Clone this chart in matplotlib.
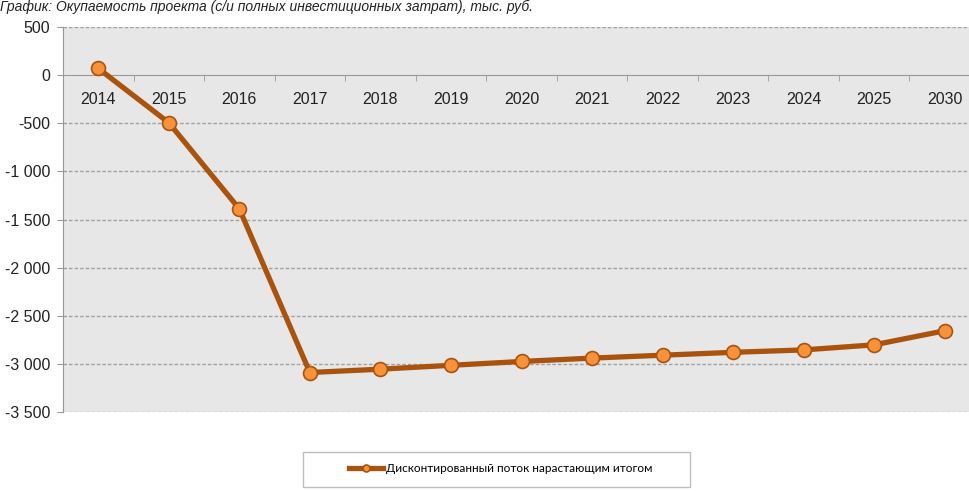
import matplotlib.pyplot as plt
from matplotlib.patches import Rectangle
from matplotlib.ticker import FuncFormatter
import numpy as np

years = ["2014", "2015", "2016", "2017", "2018", "2019", "2020",
         "2021", "2022", "2023", "2024", "2025", "2030"]
flow = [70, -495, -1390, -3090, -3055, -3015, -2975,
        -2940, -2910, -2880, -2855, -2802, -2656]
series_name = "Дисконтированный поток нарастающим итогом"
title = "График: Окупаемость проекта (с/и полных инвестиционных затрат), тыс. руб."

line_color = "#a9530e"
marker_face = "#f7923a"

plt.rcParams['font.family'] = ['Liberation Sans', 'DejaVu Sans']

fig = plt.figure(figsize=(9.7, 4.91), dpi=100)
ax = fig.add_axes([63 / 970, 1 - 412 / 491, 917 / 970, 385 / 491])
ax.set_facecolor("#e7e7e7")

x = np.arange(len(years))
ax.plot(x, flow, color=line_color, lw=3.8, marker="o", ms=10,
        mfc=marker_face, mec=line_color, mew=1.2, zorder=5,
        label=series_name, solid_joinstyle="round")

ax.set_xlim(-0.5, len(years) - 0.5)
ax.set_ylim(-3500, 500)
ax.set_yticks(np.arange(-3500, 501, 500))
ax.yaxis.set_major_formatter(FuncFormatter(
    lambda v, p: f"{int(v):,}".replace(",", " ")))

# dashed grid lines, the zero line is the x axis itself
for v in np.arange(-3500, 501, 500):
    if v != 0:
        ax.axhline(v, color="#a0a0a0", lw=1, ls=(0, (2.5, 1.5)), zorder=1)

ax.spines["bottom"].set_position(("data", 0))
ax.spines["bottom"].set_color("#999999")
ax.spines["left"].set_color("#999999")
ax.spines["top"].set_visible(False)
ax.spines["right"].set_visible(False)

ax.set_xticks(x)
ax.set_xticklabels(years)
ax.set_xticks(np.arange(-0.5, len(years), 1), minor=True)
ax.tick_params(axis="x", which="major", length=0, pad=12, labelsize=11.5,
               labelcolor="#222222")
ax.tick_params(axis="x", which="minor", length=4, color="#999999",
               direction="out")
ax.tick_params(axis="y", length=4, color="#999999", labelsize=11.5,
               labelcolor="#222222", pad=5)

fig.text(0.0, 1 - 11 / 491, title, fontsize=10, style="italic",
         va="baseline", ha="left", color="#222222")

fig.patches.append(Rectangle((303 / 970, 1 - 487 / 491), 387 / 970, 35 / 491,
                             transform=fig.transFigure, fill=False,
                             edgecolor="#bdbdbd", lw=1))
handles, labels = ax.get_legend_handles_labels()
leg = fig.legend(handles, labels, loc="center",
                 bbox_to_anchor=(501 / 970, 1 - 469 / 491), frameon=False,
                 handlelength=2.9, handletextpad=0.25, markerscale=0.5,
                 prop={"family": "Lato", "size": 8.5})

fig.savefig("out.png", dpi=100)
